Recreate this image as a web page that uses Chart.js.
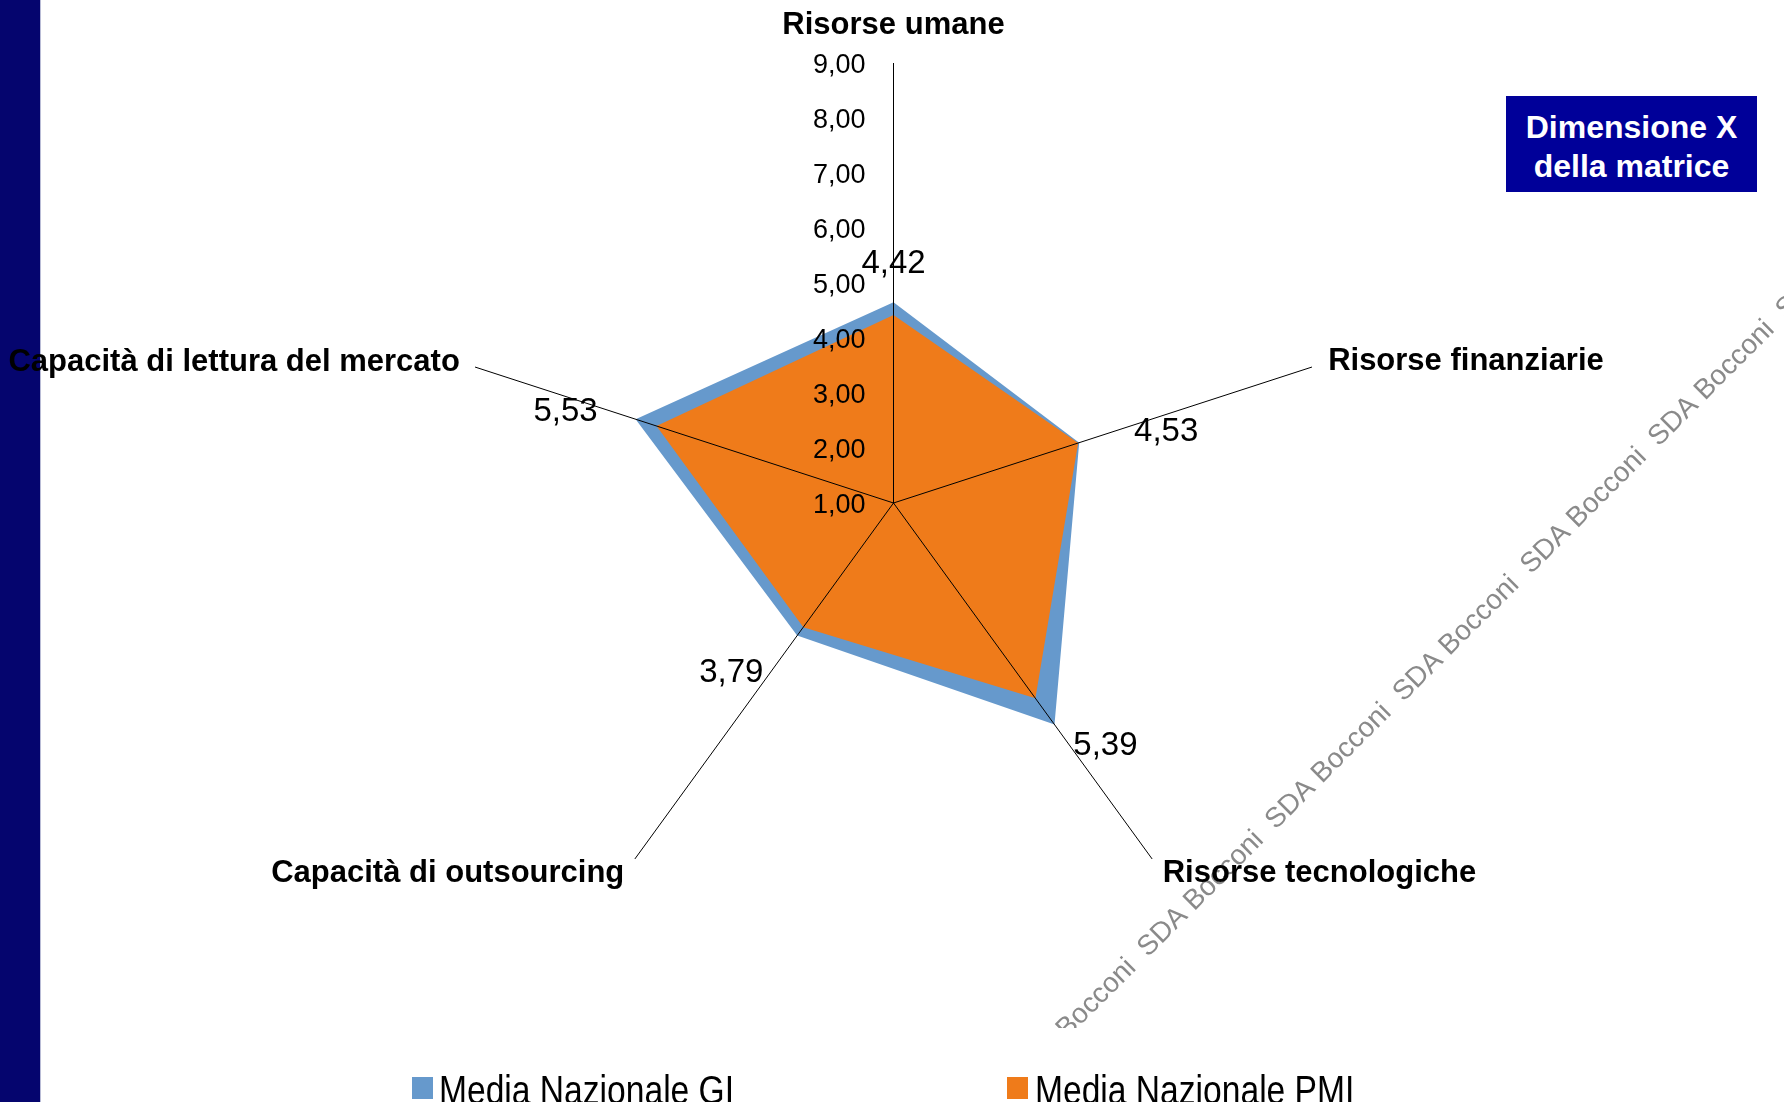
<!DOCTYPE html>
<html>
<head>
<meta charset="utf-8">
<script src="https://cdn.jsdelivr.net/npm/chart.js@4.4.1/dist/chart.umd.min.js"></script>
<style>
  html, body { margin:0; padding:0; background:#ffffff; width:1784px; height:1102px; overflow:hidden; }
  body { position:relative; font-family:"Liberation Sans", Arial, sans-serif; }
  #c { position:absolute; left:0; top:0; }
  #box { position:absolute; left:1506px; top:96px; width:251px; height:96px; background:#000099;
         color:#ffffff; font-weight:bold; font-size:32px; line-height:39px; text-align:center;
         box-sizing:border-box; padding-top:6px;
         display:flex; flex-direction:column; justify-content:center; }
  .sw { position:absolute; width:21px; height:22px; top:1077px; }
  .lt { position:absolute; top:1070px; font-family:"Liberation Sans", Arial, sans-serif;
        font-size:40px; line-height:40px; color:#000; white-space:nowrap;
        transform:scaleX(0.84); transform-origin:0 50%; }
</style>
</head>
<body>
<canvas id="c" width="1784" height="1102"></canvas>
<div id="box"><div>Dimensione X</div><div>della matrice</div></div>
<div class="sw" id="sw0" style="left:412px;"></div>
<div class="lt" id="lt0" style="left:439px;"></div>
<div class="sw" id="sw1" style="left:1007px;"></div>
<div class="lt" id="lt1" style="left:1035px;"></div>
<script>
// ---- data ----
const categories = ['Risorse umane', 'Risorse finanziarie', 'Risorse tecnologiche', 'Capacità di outsourcing', 'Capacità di lettura del mercato'];
const seriesNames = ['Media Nazionale GI', 'Media Nazionale PMI'];
const giValues  = [4.65, 4.55, 5.98, 3.98, 5.93];
const pmiValues = [4.42, 4.53, 5.39, 3.79, 5.53];
const scaleMin = 1;
const scaleMax = 9;
const scaleStep = 1;

// ---- styles ----
const FAMILY = '"Liberation Sans", Arial, sans-serif';
const COLORS = ['#6699CC', '#EF7B1A'];
const POINT_LABEL_PAD = [19, 17, 18, 18, 16];
const DATA_LABEL_OFFSET = [[0, -51], [88, -11], [70, 48], [-72, 46], [-91, -14]];
const fmt = v => Number(v).toFixed(2).replace('.', ',');

document.getElementById('sw0').style.background = COLORS[0];
document.getElementById('sw1').style.background = COLORS[1];
document.getElementById('lt0').textContent = seriesNames[0];
document.getElementById('lt1').textContent = seriesNames[1];

const decor = {
  id: 'decor',
  beforeDraw(chart) {
    const ctx = chart.ctx;
    ctx.save();
    ctx.fillStyle = '#ffffff';
    ctx.fillRect(0, 0, chart.width, chart.height);
    // watermark
    ctx.save();
    ctx.beginPath();
    ctx.rect(900, 240, 884, 788);
    ctx.clip();
    ctx.translate(1015, 1080);
    ctx.rotate(-Math.PI / 4);
    ctx.font = '28px ' + FAMILY;
    ctx.fillStyle = '#8a8a8a';
    ctx.textBaseline = 'middle';
    ctx.textAlign = 'left';
    ctx.fillText('SDA Bocconi  '.repeat(8), 0, 0);
    ctx.restore();
    // left navy strip
    ctx.fillStyle = '#05056E';
    ctx.fillRect(0, 0, 40, chart.height);
    ctx.fillStyle = '#b9bcd6';
    ctx.fillRect(40, 0, 1, chart.height);
    ctx.restore();
  },
  afterDraw(chart) {
    const ctx = chart.ctx;
    const s = chart.scales.r;
    ctx.save();
    ctx.fillStyle = '#000';
    // tick labels
    ctx.font = '27px ' + FAMILY;
    ctx.textAlign = 'right';
    ctx.textBaseline = 'middle';
    s.ticks.forEach(t => {
      const d = s.getDistanceFromCenterForValue(t.value);
      ctx.fillText(t.label, s.xCenter - 28, s.yCenter - d + 3);
    });
    // data labels (PMI series)
    ctx.font = '33px ' + FAMILY;
    ctx.textAlign = 'center';
    const meta = chart.getDatasetMeta(1);
    meta.data.forEach((pt, i) => {
      const o = DATA_LABEL_OFFSET[i];
      ctx.fillText(fmt(pmiValues[i]), pt.x + o[0], pt.y + o[1]);
    });
    ctx.restore();
  }
};

new Chart(document.getElementById('c'), {
  type: 'radar',
  data: {
    labels: categories,
    datasets: [
      { label: seriesNames[0], data: giValues, backgroundColor: COLORS[0], borderColor: COLORS[0],
        borderWidth: 0, fill: true, order: 2, pointRadius: 0, pointHoverRadius: 0 },
      { label: seriesNames[1], data: pmiValues, backgroundColor: COLORS[1], borderColor: COLORS[1],
        borderWidth: 0, fill: true, order: 1, pointRadius: 0, pointHoverRadius: 0 }
    ]
  },
  options: {
    responsive: false,
    animation: false,
    devicePixelRatio: 1,
    layout: { padding: 0 },
    plugins: { legend: { display: false }, tooltip: { enabled: false } },
    elements: { line: { tension: 0 } },
    scales: {
      r: {
        min: scaleMin,
        max: scaleMax,
        startAngle: 0,
        z: 1,
        ticks: { display: false, stepSize: scaleStep, callback: v => fmt(v) },
        grid: { display: false, z: 1 },
        angleLines: { display: true, color: '#000000', lineWidth: 1 },
        pointLabels: {
          display: true,
          color: '#000000',
          padding: ctx => POINT_LABEL_PAD[ctx.index],
          font: ctx => ({ family: FAMILY, size: 31, weight: 'bold', lineHeight: ctx.index === 0 ? 1.2 : 0 })
        },
        afterSetDimensions: s => { s.xCenter = 893.5; s.yCenter = 503; s.drawingArea = 440; }
      }
    }
  },
  plugins: [decor]
});
</script>
</body>
</html>
